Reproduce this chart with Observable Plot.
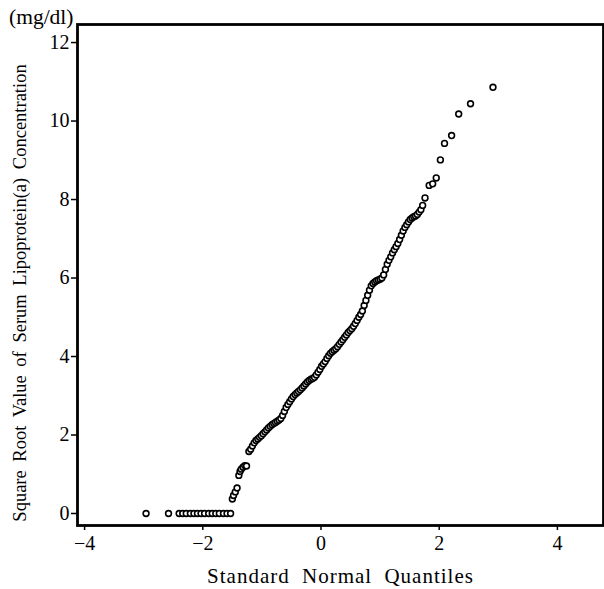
<!DOCTYPE html>
<html>
<head>
<meta charset="utf-8">
<script src="https://cdn.jsdelivr.net/npm/d3@7"></script>
<script src="https://cdn.jsdelivr.net/npm/@observablehq/plot@0.6"></script>
<style>
  html, body { margin: 0; padding: 0; background: #fff; }
  #chart svg { display: block; }
</style>
</head>
<body>
<div id="chart"></div>
<script>
// Standard normal quantiles (x)
const quantiles = [
  -2.96, -2.58,
  -2.40, -2.34, -2.28, -2.21, -2.15, -2.09, -2.03, -1.97, -1.90, -1.84, -1.78, -1.72, -1.65, -1.59, -1.53,
  -1.50, -1.48, -1.45, -1.42, -1.39, -1.37, -1.35, -1.32, -1.29, -1.26,
  -1.22, -1.19, -1.16, -1.13, -1.10, -1.07, -1.04, -1.01, -0.98, -0.95,
  -0.92, -0.89, -0.86, -0.83, -0.80, -0.77, -0.74, -0.71, -0.68, -0.65,
  -0.62, -0.59, -0.56, -0.53, -0.50, -0.47, -0.44, -0.41, -0.38, -0.35,
  -0.32, -0.29, -0.26, -0.23, -0.20, -0.17, -0.14, -0.11, -0.08, -0.05,
  -0.02, 0.01, 0.04, 0.07, 0.10, 0.13, 0.16, 0.19, 0.22, 0.25,
  0.28, 0.31, 0.34, 0.37, 0.40, 0.43, 0.46, 0.49, 0.52, 0.55,
  0.58, 0.61, 0.64, 0.67, 0.70, 0.73, 0.76, 0.79, 0.82, 0.85,
  0.88, 0.91, 0.94, 0.97, 1.00, 1.03, 1.06, 1.09, 1.12, 1.15,
  1.18, 1.21, 1.24, 1.27, 1.30, 1.33, 1.36, 1.39, 1.42, 1.45,
  1.48, 1.51, 1.54, 1.57, 1.60, 1.63, 1.66, 1.69, 1.72, 1.76,
  1.83, 1.89, 1.95, 2.02, 2.09, 2.21, 2.33, 2.53, 2.91
];
// Square root of serum Lp(a) (mg/dl)
const sqrtLpa = [
  0, 0,
  0, 0, 0, 0, 0, 0, 0, 0, 0, 0, 0, 0, 0, 0, 0,
  0.37, 0.46, 0.55, 0.65, 0.97, 1.07, 1.13, 1.18, 1.22, 1.21,
  1.58, 1.64, 1.72, 1.80, 1.86, 1.90, 1.94, 1.98, 2.03, 2.08,
  2.13, 2.18, 2.22, 2.26, 2.29, 2.32, 2.35, 2.38, 2.42, 2.50,
  2.60, 2.70, 2.78, 2.85, 2.92, 2.98, 3.03, 3.07, 3.11, 3.15,
  3.20, 3.25, 3.30, 3.35, 3.39, 3.42, 3.44, 3.47, 3.53, 3.60,
  3.67, 3.75, 3.81, 3.87, 3.95, 4.02, 4.08, 4.12, 4.16, 4.20,
  4.25, 4.31, 4.37, 4.43, 4.49, 4.55, 4.61, 4.66, 4.71, 4.77,
  4.84, 4.92, 5.00, 5.07, 5.16, 5.30, 5.43, 5.56, 5.69, 5.80,
  5.86, 5.90, 5.93, 5.95, 5.97, 6.00, 6.08, 6.22, 6.35, 6.45,
  6.54, 6.64, 6.72, 6.80, 6.88, 6.98, 7.09, 7.20, 7.29, 7.36,
  7.43, 7.49, 7.53, 7.56, 7.58, 7.62, 7.68, 7.74, 7.85, 8.04,
  8.36, 8.40, 8.55, 9.01, 9.43, 9.63, 10.18, 10.44, 10.86
];
const xTicks = [-4, -2, 0, 2, 4];
const yTicks = [0, 2, 4, 6, 8, 10, 12];
const xTitle = "Standard Normal Quantiles";
const yTitle = "Square Root Value of Serum Lipoprotein(a) Concentration";
const unitLabel = "(mg/dl)";

const data = quantiles.map((q, i) => ({q, v: sqrtLpa[i]}));

const chart = Plot.plot({
  width: 604,
  height: 589,
  marginLeft: 77,
  marginRight: 1,
  marginTop: 24,
  marginBottom: 64,
  style: {fontFamily: "'Liberation Serif', serif", fontSize: "20px", color: "#000", background: "#fff"},
  x: {domain: [-4.12, 4.78]},
  y: {domain: [-0.306, 12.46]},
  marks: [
    Plot.dot(data, {x: "q", y: "v", r: 2.9, stroke: "#000", strokeWidth: 1.6, fill: "#fff"}),
    Plot.frame({stroke: "#000", strokeWidth: 2.8}),
    Plot.axisX({ticks: xTicks, tickSize: 5, tickPadding: 5, tickFormat: d3.format("d"), label: null, strokeWidth: 1.5, fontSize: 20}),
    Plot.axisY({ticks: yTicks, tickSize: 6, tickPadding: 2, label: null, strokeWidth: 1.5, fontSize: 20}),
    Plot.text([xTitle], {frameAnchor: "bottom", dy: 51, textAnchor: "middle", lineAnchor: "middle", fontSize: 21, text: d => d}),
    Plot.text([yTitle], {frameAnchor: "left", dx: -57, dy: 18, rotate: -90, textAnchor: "middle", lineAnchor: "middle", fontSize: 18.5, text: d => d}),
    Plot.text([unitLabel], {frameAnchor: "top-left", dx: -4, dy: -7, textAnchor: "end", lineAnchor: "middle", fontSize: 21.5, text: d => d})
  ]
});
// spacing on the long axis titles, as in the printed figure
chart.querySelectorAll("text").forEach(t => {
  if (t.textContent === xTitle) { t.setAttribute("letter-spacing", "1"); t.setAttribute("word-spacing", "6"); }
  if (t.textContent === yTitle) { t.setAttribute("word-spacing", "4"); }
});
document.getElementById("chart").append(chart);
</script>
</body>
</html>
